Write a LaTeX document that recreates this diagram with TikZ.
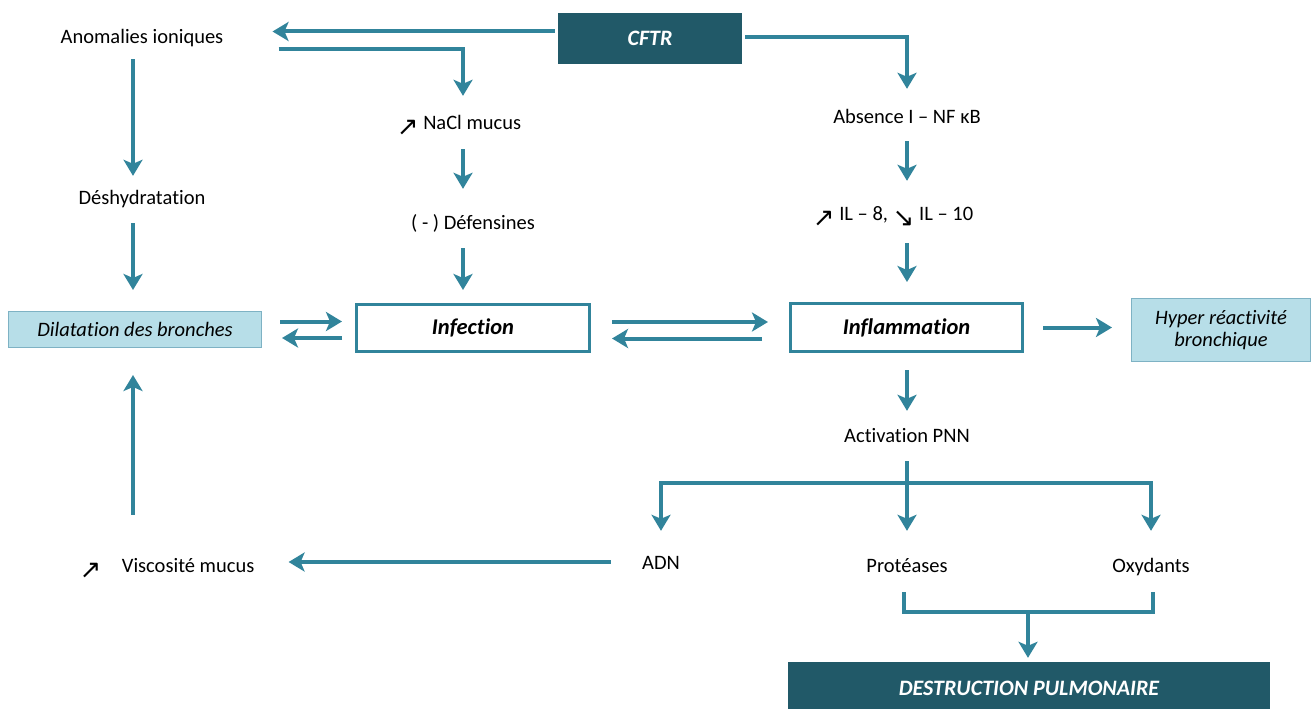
\documentclass[tikz,border=0pt]{standalone}
\usepackage{fontspec}
\setmainfont{Carlito}[Ligatures=NoCommon]
\newfontfamily\symf{DejaVu Sans}
\usetikzlibrary{arrows.meta}
\definecolor{arrc}{HTML}{31849B}
\definecolor{darkc}{HTML}{215968}
\definecolor{lightc}{HTML}{B7DEE8}
\definecolor{lightb}{HTML}{7EB2C4}
\newcommand{\upar}{\raisebox{-6pt}{\symf\fontsize{26}{28}\selectfont ↗}}
\newcommand{\dnar}{\raisebox{-6pt}{\symf\fontsize{26}{28}\selectfont ↘}}
\begin{document}
\begin{tikzpicture}[x=1pt,y=-1pt,
  txt/.style={inner sep=0pt, minimum height=20pt, text height=14pt, text depth=6pt, font=\fontsize{20.5}{24}\selectfont},
  darkbox/.style={fill=darkc, draw=none, text=white, inner sep=0pt, font=\fontsize{22}{26}\selectfont\bfseries\itshape},
  lightbox/.style={fill=lightc, draw=lightb, line width=1pt, inner sep=0pt, align=center, font=\fontsize{20.5}{24}\selectfont\itshape},
  whitebox/.style={fill=white, draw=arrc, line width=3pt, inner sep=0pt, font=\fontsize{22.5}{26}\selectfont\bfseries\itshape},
  arr/.style={draw=arrc, line width=4pt, -{Stealth[length=16pt,width=19pt,inset=4pt]}},
  ln/.style={draw=arrc, line width=4pt}]
\useasboundingbox (0,0) rectangle (1314,709);
\fill[white] (0,0) rectangle (1314,709);

\coordinate (c1) at (133,0);
\coordinate (c2) at (463,0);
\coordinate (c3) at (907,0);

% boxes
\node[darkbox, minimum width=184pt, minimum height=51pt] (cftr) at (650,38.5) {CFTR};
\node[lightbox, minimum width=253pt, minimum height=36pt] (dil) at (135,329.5) {\raisebox{-2pt}{Dilatation des bronches}};
\node[whitebox, minimum width=233pt, minimum height=47pt] (inf) at (473,328) {Infection};
\node[whitebox, minimum width=232pt, minimum height=48pt] (inflam) at (906.5,327.5) {Inflammation};
\node[lightbox, minimum width=179pt, minimum height=63pt] (hyper) at (1221,330) {\raisebox{-3pt}{\shortstack{Hyper réactivité\\[1pt]bronchique}}};
\node[darkbox, minimum width=482pt, minimum height=52pt] (destr) at (1029,688) {DESTRUCTION PULMONAIRE};

% texts
\node[txt] (anom) at (142,40) {Anomalies ioniques};
\node[txt] (desh) at (142,200) {Déshydratation};
\node[txt] (nacl) at (459,125) {\upar\ NaCl mucus};
\node[txt] (def) at (473,225) {( - ) Défensines};
\node[txt] (abs) at (907,119) {Absence I – NF κB};
\node[txt] (il) at (893,216) {\upar\ IL – 8, \dnar\ IL – 10};
\node[txt] (act) at (907,438) {Activation PNN};
\node[txt] (adn) at (661,565) {ADN};
\node[txt] (prot) at (907,568) {Protéases};
\node[txt] (oxy) at (1151,568) {Oxydants};
\node[txt] (visc) at (167,568) {\upar\quad Viscosité mucus};

% column 1
\draw[arr, shorten <=9pt, shorten >=14pt] (anom.south -| c1) -- (desh.north -| c1);
\draw[arr, shorten <=13pt, shorten >=21pt] (desh.south -| c1) -- (dil.north -| c1);
\draw[arr, shorten <=43pt, shorten >=27pt] (visc.north -| c1) -- (dil.south -| c1);

% CFTR to anomalies
\draw[arr, shorten <=3pt, shorten >=49pt] ([shift={(0,-7)}]cftr.west) -- ([shift={(0,-7)}]cftr.west -| anom.east);
% anomalies to NaCl
\draw[arr, shorten >=19pt] ([shift={(55,9)}]anom.east) -| (nacl.north -| c2);
% column 2
\draw[arr, shorten <=14pt, shorten >=26pt] (nacl.south -| c2) -- (def.north -| c2);
\draw[arr, shorten <=13pt, shorten >=13pt] (def.south -| c2) -- (inf.north -| c2);

% CFTR to absence
\draw[arr, shorten >=20pt] ([shift={(3,-1)}]cftr.east) -| (abs.north -| c3);
\draw[arr, shorten <=12pt, shorten >=25pt] (abs.south -| c3) -- (il.north -| c3);
\draw[arr, shorten <=17pt, shorten >=20pt] (il.south -| c3) -- (inflam.north -| c3);
\draw[arr, shorten <=17pt, shorten >=17pt] (inflam.south -| c3) -- (act.north -| c3);

% double arrows
\draw[arr, shorten <=18pt, shorten >=13pt] ([shift={(0,-8)}]dil.east) -- ([shift={(0,-8)}]dil.east -| inf.west);
\draw[arr, shorten <=13pt, shorten >=20pt] ([shift={(0,10)}]inf.west) -- ([shift={(0,10)}]inf.west -| dil.east);
\draw[arr, shorten <=21pt, shorten >=21pt] ([shift={(0,-6)}]inf.east) -- ([shift={(0,-6)}]inf.east -| inflam.west);
\draw[arr, shorten <=27pt, shorten >=21pt] ([shift={(0,11)}]inflam.west) -- ([shift={(0,11)}]inflam.west -| inf.east);
\draw[arr, shorten <=19pt, shorten >=19pt] (inflam.east) -- (inflam.east -| hyper.west);

% activation branches
\coordinate (split) at (907,483);
\draw[arr, shorten <=13pt, shorten >=27pt] (act.south) -- (prot.north);
\draw[arr, shorten >=24pt] (split) -| (adn.north);
\draw[arr, shorten >=27pt] (split) -| (oxy.north);

% ADN to viscosity
\draw[arr, shorten <=31pt, shorten >=34pt] ([shift={(0,-3)}]adn.west) -- ([shift={(0,-3)}]adn.west -| visc.east);

% proteases + oxydants to destruction
\coordinate (jn) at (1028,612);
\draw[ln] ([shift={(-3,14)}]prot.south) -- ([shift={(-3,0)}]prot.south |- jn) -- ([shift={(2,0)}]oxy.south |- jn) -- ([shift={(2,14)}]oxy.south);
\draw[arr, shorten >=4pt] (jn) -- (destr.north -| jn);
\end{tikzpicture}
\end{document}
